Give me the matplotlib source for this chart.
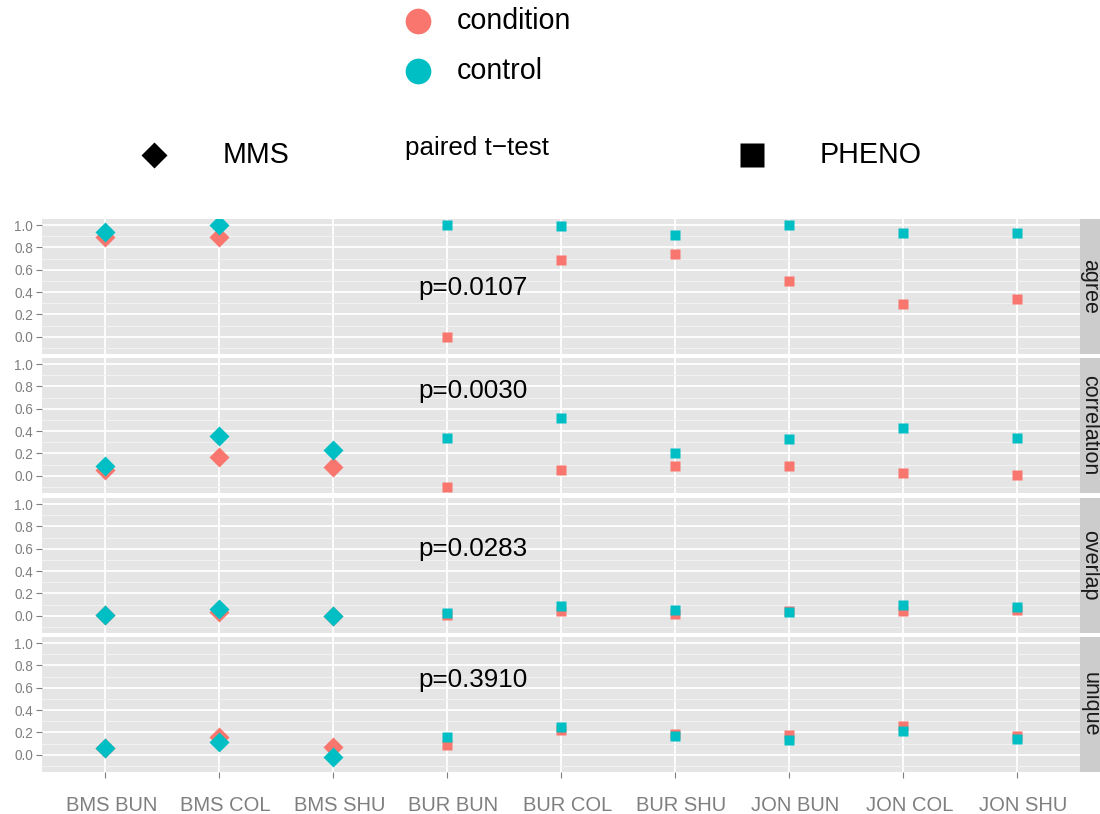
import numpy as np
import matplotlib
matplotlib.use('Agg')
from matplotlib import pyplot as plt
from matplotlib import transforms

plt.rcParams['font.family'] = ['Liberation Sans', 'DejaVu Sans']

# data
categories = ['BMS BUN', 'BMS COL', 'BMS SHU', 'BUR BUN', 'BUR COL',
              'BUR SHU', 'JON BUN', 'JON COL', 'JON SHU']
method     = ['MMS', 'MMS', 'MMS', 'PHENO', 'PHENO', 'PHENO', 'PHENO', 'PHENO', 'PHENO']
metrics    = ['agree', 'correlation', 'overlap', 'unique']

condition = {
    'agree':       [0.89, 0.89, np.nan, 0.00, 0.69, 0.74, 0.50, 0.29, 0.34],
    'correlation': [0.05, 0.165, 0.08, -0.10, 0.05, 0.085, 0.085, 0.02, 0.01],
    'overlap':     [0.01, 0.03, 0.00, 0.01, 0.04, 0.015, 0.045, 0.04, 0.05],
    'unique':      [0.06, 0.16, 0.065, 0.09, 0.225, 0.19, 0.18, 0.26, 0.165],
}
control = {
    'agree':       [0.94, 1.00, np.nan, 1.00, 0.99, 0.91, 1.00, 0.93, 0.93],
    'correlation': [0.09, 0.36, 0.23, 0.34, 0.52, 0.20, 0.33, 0.43, 0.34],
    'overlap':     [0.01, 0.06, 0.00, 0.02, 0.09, 0.05, 0.035, 0.10, 0.08],
    'unique':      [0.06, 0.11, -0.02, 0.16, 0.245, 0.17, 0.135, 0.21, 0.145],
}
p_text = ['p=0.0107', 'p=0.0030', 'p=0.0283', 'p=0.3910']
p_y    = [0.435, 0.757, 0.597, 0.67]
p_x    = 2.745

col_cond, col_ctrl = '#F8766D', '#00BFC4'
shape_marker = {'MMS': 'D', 'PHENO': 's'}
shape_size   = {'MMS': 10.5, 'PHENO': 7.8}

W, H = 1100, 814
fig = plt.figure(figsize=(W / 100, H / 100), dpi=100)

panel_rows = [(219, 354), (358, 493), (498, 633), (637, 772)]
px_left, px_right = 42, 1080
x = np.arange(len(categories))
method = np.array(method)

for i, m in enumerate(metrics):
    top, bot = panel_rows[i]
    ax = fig.add_axes([px_left / W, 1 - bot / H, (px_right - px_left) / W, (bot - top) / H])
    ax.set_facecolor('#E5E5E5')
    for s in ax.spines.values():
        s.set_visible(False)
    ax.set_xlim(-0.555, len(categories) - 0.45)
    ax.set_ylim(-0.155, 1.055)
    ax.set_yticks(np.arange(0, 1.01, 0.2))
    ax.set_yticklabels(['%.1f' % v for v in np.arange(0, 1.01, 0.2)])
    ax.set_yticks([-0.1, 0.1, 0.3, 0.5, 0.7, 0.9], minor=True)
    ax.set_xticks(x)
    ax.grid(which='major', color='white', lw=1.3)
    ax.grid(which='minor', axis='y', color='#F2F2F2', lw=0.7)
    ax.set_axisbelow(True)
    ax.tick_params(axis='y', which='major', colors='#7F7F7F', labelsize=9.8,
                   length=4, width=0.8, pad=2.5)
    ax.tick_params(axis='y', which='minor', length=0)
    if i == len(metrics) - 1:
        ax.set_xticklabels(categories)
        ax.tick_params(axis='x', colors='#7F7F7F', labelsize=14.5, length=4.5,
                       width=0.8, pad=12.5)
        shift = transforms.ScaledTranslation(6 / 100, 0, fig.dpi_scale_trans)
        for lab in ax.get_xticklabels():
            lab.set_transform(lab.get_transform() + shift)
    else:
        ax.tick_params(axis='x', length=0, labelbottom=False)

    for vals, col in [(condition[m], col_cond), (control[m], col_ctrl)]:
        vals = np.array(vals)
        for sh in ['MMS', 'PHENO']:
            sel = method == sh
            ax.plot(x[sel], vals[sel], ls='none', marker=shape_marker[sh],
                    ms=shape_size[sh], color=col, mec='none')

    ax.text(p_x, p_y[i], p_text[i], ha='left', va='center', fontsize=18.7, color='black')

    # strip
    sax = fig.add_axes([px_right / W, 1 - bot / H, 20 / W, (bot - top) / H])
    sax.set_facecolor('#CCCCCC')
    sax.set_xticks([]); sax.set_yticks([])
    for s in sax.spines.values():
        s.set_visible(False)
    sax.text(0.5, 0.5, m, rotation=-90, ha='center', va='center',
             fontsize=15.5, color='#1A1A1A', transform=sax.transAxes)

# legends (pixel coordinates)
lax = fig.add_axes([0, 0, 1, 1])
lax.set_xlim(0, W); lax.set_ylim(H, 0)
lax.axis('off')
lax.plot(418, 21, 'o', ms=18.5, color=col_cond, mec='none')
lax.plot(418, 71, 'o', ms=18.5, color=col_ctrl, mec='none')
lax.text(457, 21, 'condition', va='center', ha='left', fontsize=20.6)
lax.text(457, 71, 'control', va='center', ha='left', fontsize=20.6)
lax.plot(154, 155, 'D', ms=13.7, color='black', mec='none')
lax.plot(752, 155, 's', ms=17.5, color='black', mec='none')
lax.text(223, 155, 'MMS', va='center', ha='left', fontsize=20.6)
lax.text(820, 155, 'PHENO', va='center', ha='left', fontsize=20.6)
lax.text(405, 148, 'paired t\u2212test', va='center', ha='left', fontsize=18.7)

fig.savefig('out.png', dpi=100)
